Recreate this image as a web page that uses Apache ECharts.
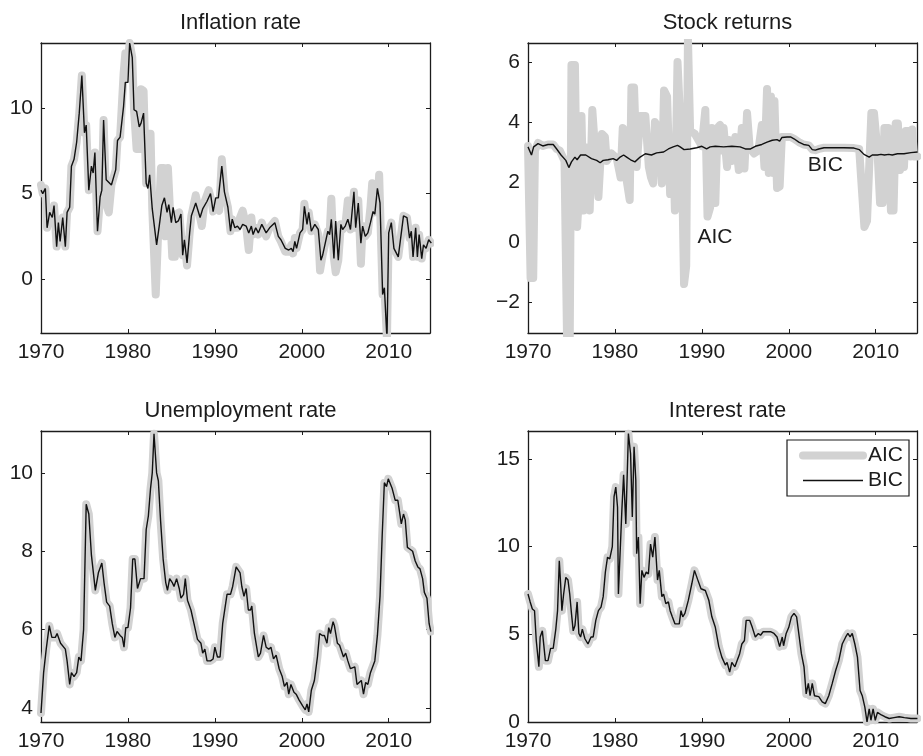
<!DOCTYPE html>
<html>
<head>
<meta charset="utf-8">
<script src="https://cdn.jsdelivr.net/npm/echarts@6/dist/echarts.min.js"></script>
<style>
  html, body { margin: 0; padding: 0; background: #fff; }
  #chart { width: 923px; height: 756px; }
</style>
</head>
<body>
<div id="chart"></div>
<script>
// panel titles and axis ranges
var titles = ['Inflation rate', 'Stock returns', 'Unemployment rate', 'Interest rate'];
var yRanges = [[-3.15, 13.8], [-3.03, 6.63], [3.64, 11.07], [0, 16.6]];
var yTicks = [[0, 5, 10], [-2, 0, 2, 4, 6], [4, 6, 8, 10], [0, 5, 10, 15]];
var xTicks = [1970, 1980, 1990, 2000, 2010];
var xRange = [1970, 2014.75];

// [year, value]
var inflBIC = [[1970.0,5.2],[1970.2,5.0],[1970.5,5.3],[1970.7,3.0],[1971.0,3.9],[1971.3,3.6],[1971.5,4.3],[1971.8,1.9],[1972.0,3.3],[1972.2,2.2],[1972.5,3.6],[1972.8,1.9],[1973.0,3.9],[1973.3,4.2],[1973.5,6.6],[1973.8,7.0],[1974.1,8.0],[1974.4,9.7],[1974.7,11.9],[1975.0,8.55],[1975.2,9.0],[1975.5,5.2],[1975.8,6.6],[1976.0,6.2],[1976.2,7.4],[1976.5,2.8],[1976.8,4.8],[1977.0,5.2],[1977.2,9.3],[1977.5,5.8],[1978.1,5.5],[1978.6,6.4],[1978.8,8.1],[1979.1,8.3],[1979.5,10.1],[1979.7,11.5],[1980.0,11.5],[1980.2,13.8],[1980.5,12.95],[1980.7,9.9],[1981.0,9.8],[1981.3,8.9],[1981.5,9.1],[1981.8,9.7],[1982.1,5.6],[1982.3,5.3],[1982.5,6.1],[1982.8,4.1],[1983.0,4.1],[1983.3,2.0],[1983.6,3.1],[1983.9,4.3],[1984.2,4.75],[1984.5,3.9],[1984.7,4.35],[1985.0,3.3],[1985.2,4.2],[1985.5,3.3],[1985.8,3.4],[1986.1,3.8],[1986.3,1.4],[1986.5,2.3],[1986.8,0.95],[1987.1,2.7],[1987.3,3.7],[1987.8,4.45],[1988.3,3.6],[1988.6,4.1],[1989.1,4.55],[1989.5,5.0],[1989.8,3.95],[1990.1,4.75],[1990.4,4.75],[1990.6,4.85],[1990.8,6.6],[1991.1,5.1],[1991.5,4.2],[1991.8,2.8],[1992.0,3.5],[1992.3,3.0],[1992.6,3.1],[1992.9,2.9],[1993.2,3.2],[1993.6,3.1],[1993.9,2.7],[1994.2,3.1],[1994.4,2.6],[1994.7,3.0],[1995.0,2.7],[1995.4,3.2],[1995.9,2.7],[1996.3,3.0],[1996.9,3.3],[1997.3,2.5],[1997.6,2.3],[1998.1,1.8],[1998.5,1.7],[1998.8,1.8],[1999.0,1.6],[1999.2,2.2],[1999.4,1.8],[1999.8,2.7],[2000.1,2.9],[2000.2,2.9],[2000.3,4.25],[2000.6,3.2],[2000.8,3.9],[2001.1,2.8],[2001.5,3.2],[2001.9,2.9],[2002.2,1.1],[2002.4,1.4],[2002.6,1.4],[2003.0,2.8],[2003.2,2.6],[2003.4,3.5],[2003.7,1.2],[2003.9,3.4],[2004.2,1.1],[2004.5,3.2],[2004.7,2.9],[2005.0,3.1],[2005.3,3.5],[2005.6,2.9],[2006.0,5.1],[2006.2,3.0],[2006.5,4.45],[2006.8,2.1],[2007.0,3.1],[2007.3,2.5],[2007.6,2.7],[2007.9,3.3],[2008.2,3.95],[2008.4,3.8],[2008.7,5.3],[2009.0,4.45],[2009.3,-0.9],[2009.5,-0.5],[2009.8,-3.5],[2010.0,2.7],[2010.3,3.3],[2010.6,1.8],[2011.1,1.3],[2011.7,3.7],[2012.1,3.6],[2012.4,2.4],[2012.6,2.8],[2012.8,1.3],[2013.1,3.0],[2013.3,1.3],[2013.5,2.6],[2013.8,1.2],[2014.0,2.0],[2014.3,1.8],[2014.6,2.3],[2014.9,2.1]];
var inflAIC = [[1970.0,5.5],[1970.2,5.0],[1970.5,5.3],[1970.7,3.0],[1971.0,3.9],[1971.3,3.6],[1971.5,4.3],[1971.8,1.9],[1972.0,3.3],[1972.2,2.2],[1972.5,3.6],[1972.8,1.9],[1973.0,3.9],[1973.3,4.2],[1973.5,6.6],[1973.8,7.0],[1974.1,8.0],[1974.4,9.7],[1974.7,11.9],[1975.0,8.55],[1975.2,9.0],[1975.5,5.2],[1975.8,6.6],[1976.0,6.2],[1976.2,7.4],[1976.5,2.8],[1976.8,4.8],[1977.0,5.2],[1977.2,9.3],[1977.5,4.4],[1977.8,3.9],[1978.1,5.5],[1978.6,6.4],[1978.8,8.1],[1979.1,8.3],[1979.5,12.0],[1979.7,13.2],[1980.0,12.8],[1980.2,13.8],[1980.5,12.95],[1980.7,9.9],[1981.0,7.6],[1981.3,7.6],[1981.5,11.1],[1981.8,11.0],[1982.1,5.6],[1982.3,8.5],[1982.6,8.5],[1982.8,4.1],[1983.0,4.1],[1983.2,-0.9],[1983.5,3.0],[1983.8,6.5],[1984.1,6.5],[1984.3,2.5],[1984.6,6.5],[1984.8,6.4],[1985.1,1.3],[1985.4,1.3],[1985.6,3.8],[1985.9,3.9],[1986.1,3.9],[1986.3,1.4],[1986.5,2.3],[1986.8,0.8],[1987.1,2.7],[1987.3,3.7],[1987.8,4.9],[1988.3,3.6],[1988.5,3.1],[1988.8,4.5],[1989.3,5.2],[1989.6,4.6],[1989.8,3.95],[1990.1,4.3],[1990.5,4.0],[1990.8,7.0],[1991.1,5.1],[1991.5,4.2],[1991.8,2.8],[1992.0,3.5],[1992.3,3.0],[1992.6,3.0],[1992.9,3.6],[1993.2,4.0],[1993.6,3.1],[1993.9,1.7],[1994.2,3.6],[1994.4,2.6],[1994.7,3.0],[1995.0,2.6],[1995.4,3.3],[1995.9,2.5],[1996.3,3.0],[1996.9,3.4],[1997.3,2.5],[1997.6,2.2],[1998.1,1.6],[1998.5,1.6],[1998.8,2.0],[1999.0,1.5],[1999.2,2.4],[1999.4,1.8],[1999.8,2.7],[2000.1,2.9],[2000.3,4.4],[2000.6,3.2],[2000.8,3.9],[2001.1,2.8],[2001.5,3.2],[2001.9,2.6],[2002.1,0.5],[2002.4,1.4],[2002.6,1.4],[2003.0,2.8],[2003.2,2.6],[2003.4,4.7],[2003.7,1.2],[2003.9,0.4],[2004.2,1.1],[2004.5,3.2],[2004.7,2.9],[2005.0,3.1],[2005.3,4.6],[2005.6,2.9],[2006.0,5.1],[2006.2,3.0],[2006.5,4.6],[2006.8,0.9],[2007.0,3.1],[2007.3,2.5],[2007.6,2.7],[2007.9,4.2],[2008.1,5.6],[2008.4,3.9],[2008.7,4.0],[2008.9,6.1],[2009.3,-0.9],[2009.5,-0.5],[2009.8,-3.5],[2010.0,2.7],[2010.3,3.3],[2010.6,1.8],[2011.1,1.3],[2011.7,3.7],[2012.1,3.6],[2012.4,2.4],[2012.6,2.8],[2012.8,1.3],[2013.1,3.0],[2013.3,1.3],[2013.5,2.6],[2013.8,1.2],[2014.0,2.0],[2014.3,1.8],[2014.6,2.3],[2014.9,2.1]];

var stockBIC = [[1970.0,3.17],[1970.4,2.9],[1970.65,3.17],[1971.15,3.28],[1971.7,3.2],[1972.3,3.25],[1972.9,3.25],[1973.3,3.1],[1973.8,2.9],[1974.35,2.72],[1974.7,2.48],[1975.0,2.67],[1975.4,2.83],[1975.65,2.74],[1976.05,2.9],[1976.65,2.9],[1977.3,2.78],[1977.9,2.72],[1978.3,2.64],[1978.65,2.72],[1979.2,2.74],[1979.8,2.78],[1980.2,2.72],[1980.6,2.83],[1981.0,2.9],[1981.35,2.83],[1981.8,2.74],[1982.3,2.67],[1982.9,2.83],[1983.5,2.94],[1984.2,2.9],[1984.8,2.97],[1985.6,3.0],[1986.15,3.1],[1986.35,3.06],[1986.7,3.17],[1987.2,3.22],[1987.5,3.17],[1987.7,3.22],[1987.95,3.08],[1988.65,3.1],[1989.4,3.14],[1990.0,3.19],[1990.55,3.1],[1990.95,3.17],[1991.55,3.19],[1992.5,3.17],[1993.45,3.19],[1994.4,3.17],[1995.0,3.1],[1995.6,3.1],[1996.15,3.19],[1996.9,3.25],[1997.5,3.33],[1998.1,3.39],[1998.65,3.41],[1998.95,3.36],[1999.2,3.48],[1999.8,3.5],[2000.2,3.5],[2000.6,3.44],[2001.15,3.33],[2001.7,3.25],[2002.3,3.22],[2002.7,3.08],[2003.05,3.06],[2003.45,3.1],[2004.05,3.14],[2005.2,3.14],[2006.35,3.14],[2007.5,3.13],[2008.1,3.08],[2008.65,2.92],[2009.25,2.83],[2009.6,2.9],[2010.2,2.9],[2010.6,2.92],[2011.0,2.9],[2011.5,2.92],[2011.9,2.9],[2012.5,2.94],[2013.25,2.94],[2014.05,2.98],[2014.8,3.0]];
var stockAIC = [[1970.0,3.2],[1970.3,-1.2],[1970.6,-1.2],[1970.8,3.05],[1971.15,3.3],[1971.7,3.2],[1972.3,3.25],[1972.9,3.25],[1973.3,3.1],[1973.65,3.05],[1974.2,2.7],[1974.5,-3.4],[1974.8,-3.4],[1975.0,5.9],[1975.4,5.9],[1975.65,0.5],[1975.9,1.7],[1976.15,4.2],[1976.4,1.05],[1976.7,3.15],[1977.1,1.05],[1977.4,4.4],[1977.7,3.15],[1978.1,1.5],[1978.5,3.6],[1978.85,3.5],[1979.05,2.7],[1979.6,2.95],[1980.2,2.8],[1980.65,2.15],[1980.9,3.8],[1981.15,3.7],[1981.35,2.05],[1981.7,1.4],[1981.9,5.15],[1982.2,5.15],[1982.5,2.5],[1982.9,4.2],[1983.5,4.2],[1983.9,2.5],[1984.15,2.15],[1984.4,1.95],[1984.6,4.0],[1985.0,3.8],[1985.4,1.95],[1985.65,5.05],[1986.0,4.85],[1986.35,1.6],[1986.75,2.7],[1986.9,1.05],[1987.2,6.0],[1987.4,6.0],[1987.7,2.85],[1987.95,-1.4],[1988.2,-0.8],[1988.4,6.8],[1988.65,3.7],[1989.2,3.6],[1990.0,3.2],[1990.4,4.4],[1990.65,0.85],[1990.95,1.15],[1991.15,3.8],[1991.55,1.3],[1991.8,3.8],[1992.1,3.9],[1992.3,3.05],[1992.5,3.8],[1992.9,2.5],[1993.1,3.4],[1993.45,2.7],[1993.85,3.5],[1994.25,2.4],[1994.6,3.8],[1994.9,2.45],[1995.2,4.3],[1995.5,3.15],[1996.0,2.95],[1996.5,3.05],[1996.9,3.9],[1997.2,2.5],[1997.5,5.1],[1997.7,2.3],[1997.95,4.85],[1998.2,2.3],[1998.35,4.7],[1998.65,1.8],[1998.95,1.85],[1999.2,3.5],[1999.8,3.5],[2000.2,3.5],[2000.6,3.44],[2001.15,3.33],[2001.7,3.25],[2002.3,3.22],[2002.7,3.08],[2003.05,3.06],[2003.45,3.1],[2004.05,3.14],[2005.2,3.14],[2006.35,3.14],[2007.5,3.13],[2008.1,3.1],[2008.7,0.5],[2009.0,0.7],[2009.25,2.5],[2009.5,4.3],[2009.8,4.3],[2010.2,3.05],[2010.5,1.3],[2010.8,1.3],[2011.0,3.8],[2011.45,3.8],[2011.75,1.05],[2012.05,1.05],[2012.3,3.95],[2012.55,3.95],[2012.8,2.4],[2013.05,3.5],[2013.25,2.5],[2013.45,3.7],[2013.8,3.7],[2014.0,2.85],[2014.2,3.75],[2014.4,2.85],[2014.8,2.85]];

var unempBIC = [[1970.0,3.87],[1970.3,4.9],[1970.6,5.5],[1970.95,6.1],[1971.25,5.8],[1971.65,5.8],[1971.85,5.9],[1972.25,5.65],[1972.8,5.5],[1973.0,5.2],[1973.3,4.6],[1973.5,4.9],[1973.8,4.8],[1974.1,4.9],[1974.35,5.3],[1974.6,5.2],[1974.9,6.0],[1975.2,9.2],[1975.5,8.95],[1975.8,7.9],[1976.0,7.9],[1976.25,7.0],[1976.6,7.45],[1977.0,7.7],[1977.25,7.2],[1977.55,6.7],[1977.9,6.6],[1978.2,6.15],[1978.5,5.8],[1978.75,5.95],[1979.1,5.85],[1979.35,5.8],[1979.55,5.55],[1979.75,6.05],[1980.0,6.05],[1980.3,6.55],[1980.55,7.8],[1980.8,7.8],[1981.1,7.05],[1981.45,7.3],[1981.85,7.3],[1982.1,8.55],[1982.35,8.9],[1982.6,9.6],[1982.8,10.0],[1983.0,11.0],[1983.3,10.0],[1983.5,9.8],[1983.75,8.8],[1984.05,7.8],[1984.35,7.2],[1984.55,7.0],[1984.8,7.3],[1985.1,7.2],[1985.3,7.1],[1985.6,7.3],[1985.9,7.05],[1986.1,6.8],[1986.4,6.9],[1986.6,7.3],[1986.85,6.75],[1987.25,6.5],[1987.6,6.15],[1988.0,5.75],[1988.4,5.65],[1988.6,5.4],[1988.85,5.5],[1989.1,5.2],[1989.5,5.2],[1989.8,5.25],[1990.0,5.55],[1990.3,5.3],[1990.6,5.3],[1990.9,6.15],[1991.4,6.9],[1991.8,6.9],[1992.05,7.1],[1992.45,7.6],[1992.65,7.65],[1992.9,7.45],[1993.1,7.1],[1993.35,6.85],[1993.6,7.05],[1993.85,6.5],[1994.1,6.5],[1994.25,6.6],[1994.55,5.9],[1994.75,5.85],[1995.0,5.3],[1995.25,5.4],[1995.6,5.85],[1995.9,5.55],[1996.2,5.5],[1996.45,5.55],[1996.75,5.25],[1997.05,5.35],[1997.4,5.0],[1997.75,4.8],[1998.0,4.55],[1998.3,4.65],[1998.5,4.35],[1998.75,4.6],[1999.1,4.4],[1999.35,4.35],[1999.7,4.2],[2000.1,4.05],[2000.4,3.95],[2000.6,4.1],[2000.8,3.9],[2001.1,4.45],[2001.45,4.7],[2001.8,5.3],[2002.05,5.9],[2002.35,5.85],[2002.6,5.85],[2002.9,5.65],[2003.1,6.05],[2003.3,5.9],[2003.6,6.2],[2003.75,6.1],[2004.1,5.65],[2004.35,5.6],[2004.55,5.55],[2004.8,5.3],[2005.05,5.4],[2005.3,5.2],[2005.6,5.0],[2005.8,5.0],[2006.1,5.05],[2006.35,4.6],[2006.6,4.65],[2006.85,4.7],[2007.1,4.35],[2007.35,4.65],[2007.6,4.6],[2007.9,4.9],[2008.1,4.95],[2008.4,5.2],[2008.7,5.85],[2009.0,6.85],[2009.25,8.4],[2009.5,9.75],[2009.75,9.65],[2009.95,9.85],[2010.15,9.9],[2010.4,9.6],[2010.75,9.3],[2011.05,9.3],[2011.25,9.35],[2011.45,8.7],[2011.7,8.95],[2011.9,8.8],[2012.15,8.1],[2012.45,8.05],[2012.75,8.0],[2013.05,7.75],[2013.35,7.6],[2013.6,7.55],[2013.9,7.3],[2014.1,6.95],[2014.4,6.8],[2014.65,6.15],[2014.85,5.95]];
// AIC and BIC pick the same model for unemployment: the lines overlap
var unempAIC = unempBIC;

var rateBIC = [[1970.0,7.3],[1970.25,6.85],[1970.5,6.45],[1970.75,6.35],[1970.95,4.65],[1971.25,3.15],[1971.4,4.85],[1971.65,5.2],[1971.8,5.3],[1972.0,3.5],[1972.3,3.5],[1972.6,4.2],[1972.9,4.2],[1973.2,5.3],[1973.4,6.35],[1973.6,9.2],[1973.75,7.9],[1973.9,6.35],[1974.1,7.3],[1974.35,8.25],[1974.6,8.1],[1974.8,7.3],[1975.0,6.2],[1975.2,5.2],[1975.4,5.5],[1975.65,6.85],[1975.85,5.05],[1976.05,4.85],[1976.25,5.3],[1976.55,4.75],[1976.9,4.45],[1977.25,4.85],[1977.5,4.85],[1977.8,5.8],[1978.1,6.35],[1978.4,6.55],[1978.65,7.15],[1978.9,8.55],[1979.15,9.4],[1979.4,9.3],[1979.7,10.0],[1979.9,12.85],[1980.1,13.4],[1980.3,12.25],[1980.4,7.3],[1980.6,7.3],[1980.8,12.1],[1981.0,14.1],[1981.25,11.3],[1981.55,16.45],[1981.8,15.3],[1982.0,11.7],[1982.2,15.7],[1982.4,13.8],[1982.5,9.6],[1982.7,10.55],[1982.9,6.75],[1983.1,8.65],[1983.35,8.25],[1983.6,8.55],[1983.85,8.45],[1984.1,10.15],[1984.35,9.4],[1984.6,10.55],[1984.9,8.1],[1985.1,8.65],[1985.4,7.15],[1985.6,7.3],[1985.85,6.75],[1986.15,6.85],[1986.35,6.35],[1986.6,6.0],[1986.9,5.6],[1987.4,5.6],[1987.6,6.35],[1987.8,6.0],[1988.05,6.2],[1988.45,6.95],[1988.85,7.9],[1989.15,8.65],[1989.5,8.15],[1989.9,7.6],[1990.4,7.5],[1990.8,6.95],[1991.15,6.0],[1991.55,5.4],[1991.95,4.3],[1992.3,3.7],[1992.7,3.25],[1992.9,3.4],[1993.2,2.85],[1993.45,3.4],[1993.8,3.15],[1994.05,3.5],[1994.35,3.9],[1994.6,4.45],[1994.9,4.65],[1995.1,5.8],[1995.5,5.8],[1995.8,5.4],[1996.15,4.85],[1996.5,5.05],[1996.75,4.95],[1997.05,5.15],[1997.5,5.15],[1997.9,5.15],[1998.3,5.05],[1998.65,4.85],[1998.95,4.3],[1999.25,4.85],[1999.4,4.35],[1999.7,5.05],[2000.0,5.4],[2000.3,6.0],[2000.6,6.2],[2000.9,6.0],[2001.15,5.05],[2001.45,3.9],[2001.75,3.15],[2002.0,1.6],[2002.25,2.2],[2002.45,1.5],[2002.7,2.2],[2002.95,1.5],[2003.45,1.45],[2003.85,1.15],[2004.2,1.05],[2004.6,1.5],[2005.0,2.2],[2005.4,2.95],[2005.75,3.5],[2006.15,4.45],[2006.55,4.85],[2006.8,5.05],[2007.05,4.85],[2007.3,5.05],[2007.6,4.45],[2007.9,3.7],[2008.2,1.8],[2008.45,1.5],[2008.75,0.85],[2009.0,0.0],[2009.25,0.75],[2009.45,0.1],[2009.7,0.75],[2009.95,0.1],[2010.2,0.55],[2010.65,0.4],[2011.05,0.3],[2011.55,0.2],[2012.1,0.25],[2012.7,0.3],[2013.3,0.25],[2014.05,0.2],[2014.8,0.2]];
var rateAIC = rateBIC;

// text notes inside the stock returns panel
var notes = [{ name: 'AIC', value: [1991.5, 0.17] }, { name: 'BIC', value: [2004.2, 2.57] }];

var panels = [
  { aic: inflAIC, bic: inflBIC },
  { aic: stockAIC, bic: stockBIC },
  { aic: unempAIC, bic: unempBIC },
  { aic: rateAIC, bic: rateBIC }
];

var FONT = "'Liberation Sans', Arial, sans-serif";
var INK = '#1c1c1c';
var AIC_GREY = '#d2d2d2';
var grids = [
  { left: 41, top: 43, width: 389, height: 290 },
  { left: 528, top: 43, width: 389, height: 290 },
  { left: 41, top: 431, width: 389, height: 291 },
  { left: 528, top: 431, width: 389, height: 291 }
];

function plain(v) { return String(v).replace('-', '\u2212'); }

var option = {
  backgroundColor: '#fff',
  animation: false,
  textStyle: { fontFamily: FONT },
  title: [],
  grid: [],
  xAxis: [],
  yAxis: [],
  series: [],
  legend: {
    data: ['AIC', 'BIC'],
    orient: 'vertical',
    left: 787,
    top: 440,
    padding: [5, 6, 5, 12],
    itemWidth: 60,
    itemHeight: 14,
    itemGap: 4,
    backgroundColor: '#fff',
    borderColor: INK,
    borderWidth: 1.2,
    borderRadius: 0,
    itemStyle: { opacity: 0 },
    lineStyle: { width: 'inherit' },
    textStyle: { fontSize: 21, color: INK, fontFamily: FONT },
    selectedMode: false
  }
};

grids.forEach(function (g, i) {
  option.grid.push({ left: g.left, top: g.top, width: g.width, height: g.height,
    containLabel: false, outerBoundsMode: 'none' });
  option.title.push({
    text: titles[i],
    left: g.left + g.width / 2,
    top: i < 2 ? 7 : 395,
    textAlign: 'center',
    textStyle: { fontSize: 22, fontWeight: 'normal', color: INK, fontFamily: FONT }
  });
  var line = { show: true, onZero: false, lineStyle: { color: INK, width: 1.3 } };
  var tick = { show: true, inside: true, length: 4, lineStyle: { color: INK, width: 1 } };
  ['bottom', 'top'].forEach(function (pos) {
    option.xAxis.push({
      type: 'value', gridIndex: i, position: pos, min: xRange[0], max: xRange[1],
      axisLine: line,
      axisTick: Object.assign({ customValues: xTicks }, tick),
      axisLabel: { show: pos === 'bottom', customValues: xTicks, fontSize: 21, color: INK,
        fontFamily: FONT, margin: 9, formatter: plain },
      splitLine: { show: false }
    });
  });
  ['left', 'right'].forEach(function (pos) {
    option.yAxis.push({
      type: 'value', gridIndex: i, position: pos, min: yRanges[i][0], max: yRanges[i][1],
      axisLine: line,
      axisTick: Object.assign({ customValues: yTicks[i] }, tick),
      axisLabel: { show: pos === 'left', customValues: yTicks[i], fontSize: 21, color: INK,
        fontFamily: FONT, margin: 8, formatter: plain },
      splitLine: { show: false }
    });
  });
  option.series.push({
    name: 'AIC', type: 'line', xAxisIndex: i * 2, yAxisIndex: i * 2,
    data: panels[i].aic, symbol: 'none', clip: true, silent: true,
    itemStyle: { color: AIC_GREY },
    lineStyle: { color: AIC_GREY, width: 8, join: 'round', cap: 'round' }, z: 2
  });
  option.series.push({
    name: 'BIC', type: 'line', xAxisIndex: i * 2, yAxisIndex: i * 2,
    data: panels[i].bic, symbol: 'none', clip: true, silent: true,
    itemStyle: { color: '#111' },
    lineStyle: { color: '#111', width: 1.4 }, z: 3
  });
});

option.series.push({
  type: 'scatter', xAxisIndex: 2, yAxisIndex: 2, data: notes,
  symbolSize: 0, itemStyle: { color: INK, opacity: 1 }, silent: true, z: 5,
  label: { show: true, position: 'inside', formatter: '{b}', fontSize: 21, color: INK,
    fontFamily: FONT, textBorderWidth: 0, opacity: 1 }
});

var chart = echarts.init(document.getElementById('chart'), null, { renderer: 'canvas' });
chart.setOption(option);
</script>
</body>
</html>
